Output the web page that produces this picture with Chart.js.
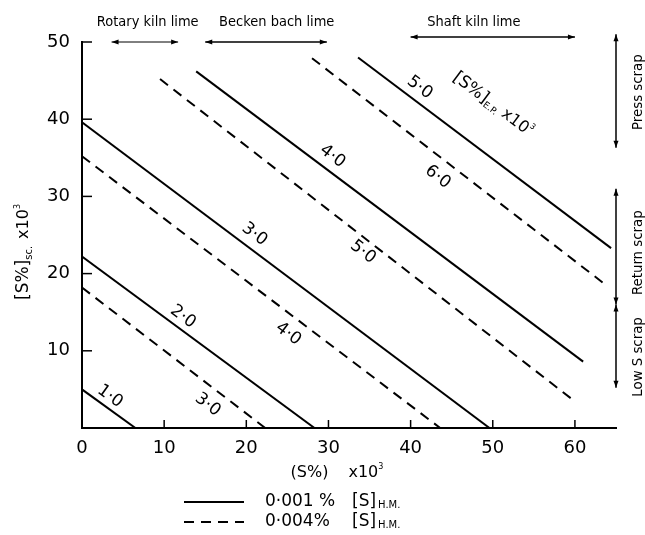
<!DOCTYPE html>
<html><head><meta charset="utf-8">
<script src="https://cdn.jsdelivr.net/npm/chart.js@4/dist/chart.umd.min.js"></script>
<style>html,body{margin:0;padding:0;background:#fff}#wrap{width:645px;height:535px;position:relative}</style>
</head><body><div id="wrap"><canvas id="c" width="645" height="535"></canvas></div>
<script>
// ---- data ----
const xTickValues=[0,10,20,30,40,50,60];
const yTickValues=[10,20,30,40,50];
const solidLevels=['1·0','2·0','3·0','4·0','5·0'];
const solidStartX=[0,0,0,13.9,33.6];
const solidStartY=[5.0,22.2,39.6,46.2,48.0];
const solidEndX=[6.5,28.3,49.6,61.0,64.4];
const solidEndY=[0,0,0,8.6,23.3];
const dashedLevels=['3·0','4·0','5·0','6·0'];
const dashedStartX=[0,0,9.5,28.0];
const dashedStartY=[18.2,35.2,45.2,47.9];
const dashedEndX=[22.3,43.6,59.8,63.8];
const dashedEndY=[0,0,3.6,18.5];
const solidLabelX=[3.4,12.3,21.0,30.5,41.1];
const solidLabelY=[4.1,14.4,25.1,35.2,44.1];
const dashedLabelX=[15.3,25.1,34.2,43.3];
const dashedLabelY=[3.0,12.2,22.8,32.5];
const limeNames=['Rotary kiln lime','Becken bach lime','Shaft kiln lime'];
const limeFrom=[3.6,15,40];
const limeTo=[11.7,29.8,60];
const limeTextX=[8.0,23.7,47.7];
const scrapNames=['Press scrap','Return scrap','Low S scrap'];
const scrapFrom=[51,31,16];
const scrapTo=[36.3,16,5.2];
const scrapTextY=[43.5,22.7,9.2];
const seriesNames=['0·001 %','0·004%'];

const FONT='"DejaVu Sans", sans-serif';
const DASH=[10,7];

const datasets=[];
solidLevels.forEach((lv,i)=>datasets.push({
  label:'solid '+lv,
  data:[{x:solidStartX[i],y:solidStartY[i]},{x:solidEndX[i],y:solidEndY[i]}],
  showLine:true,borderColor:'#000',borderWidth:2,pointRadius:0,borderDash:[],
  _kind:'solid',_idx:i
}));
dashedLevels.forEach((lv,i)=>datasets.push({
  label:'dashed '+lv,
  data:[{x:dashedStartX[i],y:dashedStartY[i]},{x:dashedEndX[i],y:dashedEndY[i]}],
  showLine:true,borderColor:'#000',borderWidth:2,pointRadius:0,borderDash:DASH,
  _kind:'dashed',_idx:i
}));

function rich(ctx,parts,x,y,angle,align,sx){
  ctx.save();
  ctx.translate(x,y);ctx.rotate(angle||0);ctx.scale(sx||1,1);
  let w=0;
  parts.forEach(p=>{ctx.font=p.size+'px '+FONT;w+=ctx.measureText(p.t).width+(p.gap||0);});
  let cx=align==='left'?0:-w/2;
  ctx.textBaseline='middle';ctx.textAlign='left';ctx.fillStyle='#000';
  parts.forEach(p=>{ctx.font=p.size+'px '+FONT;ctx.fillText(p.t,cx,p.dy||0);cx+=ctx.measureText(p.t).width+(p.gap||0);});
  ctx.restore();
}
function arrow(ctx,x1,y1,x2,y2,lw){
  ctx.save();ctx.strokeStyle='#000';ctx.fillStyle='#000';ctx.lineWidth=lw;
  ctx.beginPath();ctx.moveTo(x1,y1);ctx.lineTo(x2,y2);ctx.stroke();
  const a=Math.atan2(y2-y1,x2-x1);
  [[x2,y2,a],[x1,y1,a+Math.PI]].forEach(([x,y,t])=>{
    ctx.beginPath();ctx.moveTo(x,y);
    ctx.lineTo(x-7*Math.cos(t)+2.5*Math.sin(t),y-7*Math.sin(t)-2.5*Math.cos(t));
    ctx.lineTo(x-7*Math.cos(t)-2.5*Math.sin(t),y-7*Math.sin(t)+2.5*Math.cos(t));
    ctx.closePath();ctx.fill();
  });
  ctx.restore();
}

const deco={
  id:'deco',
  afterDraw(chart){
    const ctx=chart.ctx,xs=chart.scales.x,ys=chart.scales.y,ca=chart.chartArea;
    const X=v=>xs.getPixelForValue(v),Y=v=>ys.getPixelForValue(v);
    ctx.save();
    // inside tick marks
    ctx.strokeStyle='#000';ctx.lineWidth=1.5;
    xTickValues.forEach(v=>{if(v===0)return;ctx.beginPath();ctx.moveTo(X(v),ca.bottom);ctx.lineTo(X(v),ca.bottom-8);ctx.stroke();});
    yTickValues.forEach(v=>{ctx.beginPath();ctx.moveTo(ca.left,Y(v));ctx.lineTo(ca.left+10,Y(v));ctx.stroke();});
    // line labels
    chart.data.datasets.forEach((ds,di)=>{
      const m=chart.getDatasetMeta(di).data;
      const ang=Math.atan2(m[1].y-m[0].y,m[1].x-m[0].x);
      const i=ds._idx;
      const lx=ds._kind==='solid'?solidLabelX[i]:dashedLabelX[i];
      const ly=ds._kind==='solid'?solidLabelY[i]:dashedLabelY[i];
      const t=ds._kind==='solid'?solidLevels[i]:dashedLevels[i];
      rich(ctx,[{t:t,size:17}],X(lx),Y(ly),ang,'center');
    });
    // curve family label
    const m5=chart.getDatasetMeta(4).data;
    const a5=Math.atan2(m5[1].y-m5[0].y,m5[1].x-m5[0].x);
    rich(ctx,[{t:'[S%]',size:17},{t:'E.P.',size:9,dy:5,gap:5},{t:'x10',size:16},{t:'3',size:8,dy:-6}],X(50),Y(41.9),a5,'center');
    // top arrows + labels
    limeNames.forEach((n,i)=>{
      const yy=i===2?Y(50)-5:Y(50);
      arrow(ctx,X(limeFrom[i]),yy,X(limeTo[i]),yy,i===0?1:1.5);
      rich(ctx,[{t:n,size:14}],X(limeTextX[i]),22,0,'center',0.93);
    });
    // right arrows + labels
    scrapNames.forEach((n,i)=>{
      arrow(ctx,ca.right,Y(scrapFrom[i]),ca.right,Y(scrapTo[i]),1.5);
      rich(ctx,[{t:n,size:14}],ca.right+22,Y(scrapTextY[i]),-Math.PI/2,'center',0.95);
    });
    // y title
    rich(ctx,[{t:'[S%]',size:17},{t:'sc.',size:10,dy:5,gap:7},{t:'x10',size:16},{t:'3',size:8,dy:-6}],24,252,-Math.PI/2,'center');
    // x title
    rich(ctx,[{t:'(S%)',size:16,gap:20},{t:'x10',size:16},{t:'3',size:8,dy:-6}],337,473,0,'center');
    // legend
    [0,1].forEach(k=>{
      const yy=502+k*20;
      ctx.save();ctx.strokeStyle='#000';ctx.lineWidth=2;ctx.setLineDash(k?DASH:[]);
      ctx.beginPath();ctx.moveTo(184,yy);ctx.lineTo(244,yy);ctx.stroke();ctx.restore();
      rich(ctx,[{t:seriesNames[k],size:17}],265,yy,0,'left');
      rich(ctx,[{t:'[S]',size:17,gap:2},{t:'H.M.',size:10,dy:3}],352,yy,0,'left');
    });
    ctx.restore();
  }
};

new Chart(document.getElementById('c'),{
  type:'scatter',
  data:{datasets},
  options:{
    responsive:false,animation:false,devicePixelRatio:1,
    layout:{padding:{top:42,right:29,left:0,bottom:0}},
    plugins:{legend:{display:false},tooltip:{enabled:false}},
    scales:{
      x:{type:'linear',min:0,max:65,
        afterBuildTicks:s=>{s.ticks=xTickValues.map(v=>({value:v}));},
        afterFit:s=>{s.height=107;},
        grid:{display:false,drawTicks:false},
        border:{display:true,color:'#000',width:2},
        ticks:{padding:10,color:'#000',font:{family:FONT,size:18},maxRotation:0,autoSkip:false}},
      y:{type:'linear',min:0,max:50,
        afterBuildTicks:s=>{s.ticks=yTickValues.map(v=>({value:v}));},
        afterFit:s=>{s.width=82;},
        grid:{display:false,drawTicks:false},
        border:{display:true,color:'#000',width:2},
        ticks:{padding:12,color:'#000',font:{family:FONT,size:18},autoSkip:false}}
    }
  },
  plugins:[deco]
});
</script></body></html>
